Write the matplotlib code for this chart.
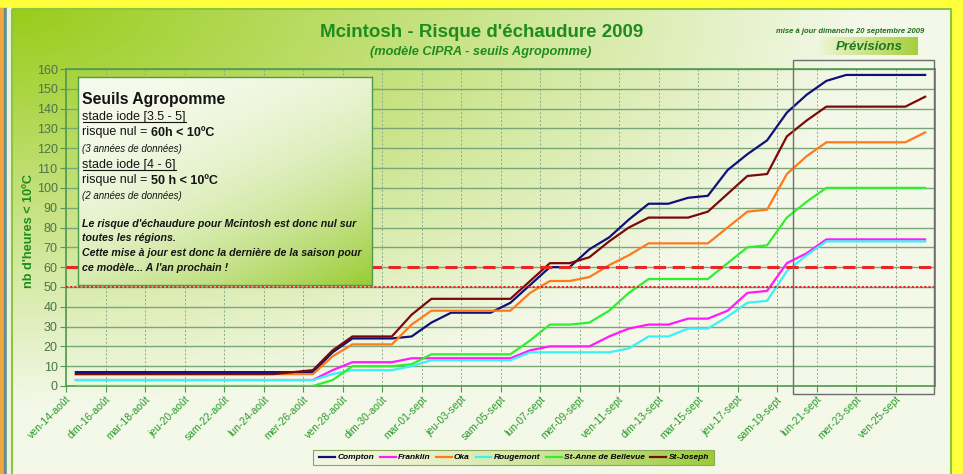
import numpy as np
import matplotlib

matplotlib.use("Agg")
import matplotlib.pyplot as plt
import matplotlib.transforms as mtransforms
from matplotlib.colors import to_rgb
from matplotlib.lines import Line2D
from matplotlib.patches import Rectangle

W, H = 963, 474

plt.rcParams["font.family"] = ["Liberation Sans", "DejaVu Sans"]

# cumulative hours < 10 C, one value per day, 14 Aug -> 26 Sept
days = np.arange(44)
tick_labels = ["ven-14-août", "dim-16-août", "mar-18-août", "jeu-20-août",
               "sam-22-août", "lun-24-août", "mer-26-août", "ven-28-août",
               "dim-30-août", "mar-01-sept", "jeu-03-sept", "sam-05-sept",
               "lun-07-sept", "mer-09-sept", "ven-11-sept", "dim-13-sept",
               "mar-15-sept", "jeu-17-sept", "sam-19-sept", "lun-21-sept",
               "mer-23-sept", "ven-25-sept"]

compton = [7, 7, 7, 7, 7, 7, 7, 7, 7, 7, 7, 7, 7, 17, 24, 24, 24, 25, 32, 37,
           37, 37, 42, 51, 60, 60, 69, 75, 84, 92, 92, 95, 96, 109, 117, 124,
           138, 147, 154, 157, 157, 157, 157, 157]
franklin = [3, 3, 3, 3, 3, 3, 3, 3, 3, 3, 3, 3, 3, 8, 12, 12, 12, 14, 14, 14,
            14, 14, 14, 18, 20, 20, 20, 25, 29, 31, 31, 34, 34, 38, 47, 48,
            62, 67, 74, 74, 74, 74, 74, 74]
oka = [6, 6, 6, 6, 6, 6, 6, 6, 6, 6, 6, 6, 6, 15, 21, 21, 21, 31, 38, 38, 38,
       38, 38, 47, 53, 53, 55, 61, 66, 72, 72, 72, 72, 80, 88, 89, 107, 116,
       123, 123, 123, 123, 123, 128]
rougemont = [3, 3, 3, 3, 3, 3, 3, 3, 3, 3, 3, 3, 3, 6, 8, 8, 8, 10, 13, 13,
             13, 13, 13, 17, 17, 17, 17, 17, 19, 25, 25, 29, 29, 35, 42, 43,
             58, 66, 73, 73, 73, 73, 73, 73]
st_anne = [0, 0, 0, 0, 0, 0, 0, 0, 0, 0, 0, 0, 0, 3, 10, 10, 10, 11, 16, 16,
           16, 16, 16, 23, 31, 31, 32, 38, 47, 54, 54, 54, 54, 62, 70, 71, 85,
           93, 100, 100, 100, 100, 100, 100]
st_joseph = [6, 6, 6, 6, 6, 6, 6, 6, 6, 6, 6, 7, 8, 18, 25, 25, 25, 36, 44, 44,
             44, 44, 44, 53, 62, 62, 65, 73, 80, 85, 85, 85, 88, 97, 106, 107,
             126, 134, 141, 141, 141, 141, 141, 146]

series = [("Compton", compton, "#10107a"),
          ("Franklin", franklin, "#ff1aff"),
          ("Oka", oka, "#ff7a1a"),
          ("Rougemont", rougemont, "#3cf0f5"),
          ("St-Anne de Bellevue", st_anne, "#2ef02e"),
          ("St-Joseph", st_joseph, "#7a0a0a")]

seuil_haut, seuil_bas = 60, 50
prevision_debut = 36.8

GREEN = "#1e8c1e"


def gradient(t, c0, c1):
    a, b = np.array(to_rgb(c0)), np.array(to_rgb(c1))
    return a + (b - a) * np.clip(t, 0, 1)[..., None]


fig = plt.figure(figsize=(W / 100, H / 100), dpi=100)
pxT = mtransforms.Affine2D().scale(1 / W, -1 / H).translate(0, 1) + fig.transFigure

# ---- background, borders and panel gradient
bg = fig.add_axes([0, 0, 1, 1])
bg.set_xlim(0, W)
bg.set_ylim(H, 0)
bg.axis("off")
bg.add_patch(Rectangle((0, 0), W, H, color="#ffff3c", zorder=0))
bg.add_patch(Rectangle((0, 8), 4, H, color="#f2a640", zorder=1))
bg.add_patch(Rectangle((4, 8), 2.5, H, color="#5f8f8f", zorder=1))
bg.add_patch(Rectangle((6.5, 8), 6, H, color="#eef4dc", zorder=1))
yy, xx = np.mgrid[0:1:200j, 0:1:300j]
t = np.sqrt((xx / 0.9) ** 2 + (yy / 0.85) ** 2)
bg.imshow(gradient(t, "#99cc1a", "#f3f8e8"), extent=(12, 951, H, 9),
          aspect="auto", interpolation="bilinear", zorder=2)
bg.add_patch(Rectangle((12, 9), 939, H, fill=False, ec="#8cc63f", lw=1.5,
                       zorder=3))

# "Prévisions" box and legend box
u = np.linspace(0, 1, 200)[None, :] * np.ones((10, 1))
bg.imshow(gradient(u, "#eef5d4", "#a5cf3c"), extent=(820, 918, 55, 37),
          aspect="auto", interpolation="bilinear", zorder=4)
bg.imshow(gradient(u ** 1.5, "#f3f7e2", "#9ccb3a"), extent=(313, 714, 465, 450),
          aspect="auto", interpolation="bilinear", zorder=4)
bg.add_patch(Rectangle((313, 450), 401, 15, fill=False, ec="#8aa860", lw=0.8,
                       zorder=5))

# ---- titles
fig.text(482, 37, "Mcintosh - Risque d'échaudure 2009", transform=pxT,
         ha="center", va="baseline", fontsize=13.5, fontweight="bold",
         color=GREEN)
fig.text(481, 55, "(modèle CIPRA - seuils Agropomme)", transform=pxT,
         ha="center", va="baseline", fontsize=9.2, fontweight="bold",
         fontstyle="italic", color=GREEN)
fig.text(850, 33, "mise à jour dimanche 20 septembre 2009", transform=pxT,
         ha="center", va="baseline", fontsize=5.5, fontweight="bold",
         fontstyle="italic", color="#1e6e1e")
fig.text(869, 50, "Prévisions", transform=pxT, ha="center", va="baseline",
         fontsize=9.5, fontweight="bold", fontstyle="italic", color="#1e7a1e")

# ---- main chart
ax = fig.add_axes([66 / W, 1 - 386 / H, 869 / W, 317 / H])
ax.patch.set_alpha(0)
x = days + 0.5
for name, vals, col in series:
    ax.plot(x, vals, color=col, lw=1.6, label=name, zorder=3,
            solid_joinstyle="round")
ax.axhline(seuil_haut, color="#e82626", lw=2.2, dashes=(4, 2.2), zorder=4)
ax.axhline(seuil_bas, color="#e82626", lw=1.5, dashes=(1, 1), zorder=4)

ax.set_xlim(0, 44)
ax.set_ylim(0, 160)
ax.set_yticks(np.arange(0, 161, 10))
ax.set_xticks(days[::2])
ax.set_xticklabels(tick_labels, rotation=45, ha="right", va="top",
                   rotation_mode="anchor", fontsize=7.5, color="#2a9a2a")
shift = mtransforms.ScaledTranslation(0.06, -0.04, fig.dpi_scale_trans)
for lab in ax.get_xticklabels():
    lab.set_transform(lab.get_transform() + shift)
ax.tick_params(axis="y", labelsize=9, labelcolor="#4a744a", color="#4e9a4e",
               length=4, pad=2)
ax.tick_params(axis="x", color="#4e9a4e", length=4, pad=2)
ax.grid(axis="y", color="#7aa67a", lw=1.0)
ax.grid(axis="x", color="#8aaa8a", lw=0.7, dashes=(2, 2))
ax.set_axisbelow(True)
for sp in ax.spines.values():
    sp.set_color("#4e9a4e")
    sp.set_linewidth(1.2)
ax.set_ylabel("nb d'heures < 10ºC", fontsize=9.2, fontweight="bold",
              color=GREEN)
ax.yaxis.set_label_coords(-0.036, 0.49)

# forecast frame
fr = mtransforms.blended_transform_factory(ax.transData, ax.transAxes)
ax.add_patch(Rectangle((prevision_debut, -0.025), 44 - prevision_debut - 0.05,
                       1.053, transform=fr, fill=False, ec="#6e6e6e", lw=1.0,
                       clip_on=False, zorder=5))

leg = ax.legend(ncol=6, loc="center", bbox_to_anchor=(514 / W, 1 - 457.5 / H),
                bbox_transform=fig.transFigure, frameon=False,
                prop=dict(size=6, weight="bold", style="italic"),
                handlelength=1.9, handletextpad=0.25, columnspacing=0.7)

# ---- text box
tb = fig.add_axes([78 / W, 1 - 285 / H, 294 / W, 208 / H])
yy, xx = np.mgrid[0:1:100j, 0:1:150j]
tb.imshow(gradient((0.4 * xx + 0.6 * yy) ** 2.2, "#f6faec", "#99cc33"),
          extent=(0, 1, 0, 1), aspect="auto", interpolation="bilinear")
tb.set_xticks([])
tb.set_yticks([])
for sp in tb.spines.values():
    sp.set_color("#4e9a4e")
    sp.set_linewidth(1.0)

r = fig.canvas.get_renderer()
INK = "#141414"


def run(x0, y, parts):
    xpos = x0
    for s, kw in parts:
        txt = fig.text(xpos, y, s, transform=pxT, va="baseline", color=INK,
                       zorder=6, **kw)
        bb = txt.get_window_extent(renderer=r)
        xpos = bb.x1 + 3.5
    return txt


def underline(txt, y):
    bb = txt.get_window_extent(renderer=r)
    fig.add_artist(Line2D([bb.x0, bb.x1], [y, y], transform=pxT, color=INK,
                          lw=0.8, zorder=6))


L = 82.5
run(L, 104, [("Seuils Agropomme", dict(fontsize=11.3, fontweight="bold"))])
s1 = run(L, 120, [("stade iode [3.5 - 5]", dict(fontsize=9))])
underline(s1, 122.5)
run(L, 135.5, [("risque nul =", dict(fontsize=9)),
               ("60h < 10ºC", dict(fontsize=9, fontweight="bold"))])
run(L, 151.5, [("(3 années de données)", dict(fontsize=7, fontstyle="italic"))])
s2 = run(L, 168, [("stade iode [4 - 6]", dict(fontsize=9))])
underline(s2, 170.5)
run(L, 183.5, [("risque nul =", dict(fontsize=9)),
               ("50 h < 10ºC", dict(fontsize=9, fontweight="bold"))])
run(L, 199, [("(2 années de données)", dict(fontsize=7, fontstyle="italic"))])
bi = dict(fontsize=7.7, fontweight="bold", fontstyle="italic")
run(L, 227.5, [("Le risque d'échaudure pour Mcintosh est donc nul sur", bi)])
run(L, 241.5, [("toutes les régions.", bi)])
run(L, 256.5, [("Cette mise à jour est donc la dernière de la saison pour", bi)])
run(L, 271, [("ce modèle... A l'an prochain !", bi)])

fig.savefig("out.png", dpi=100)
